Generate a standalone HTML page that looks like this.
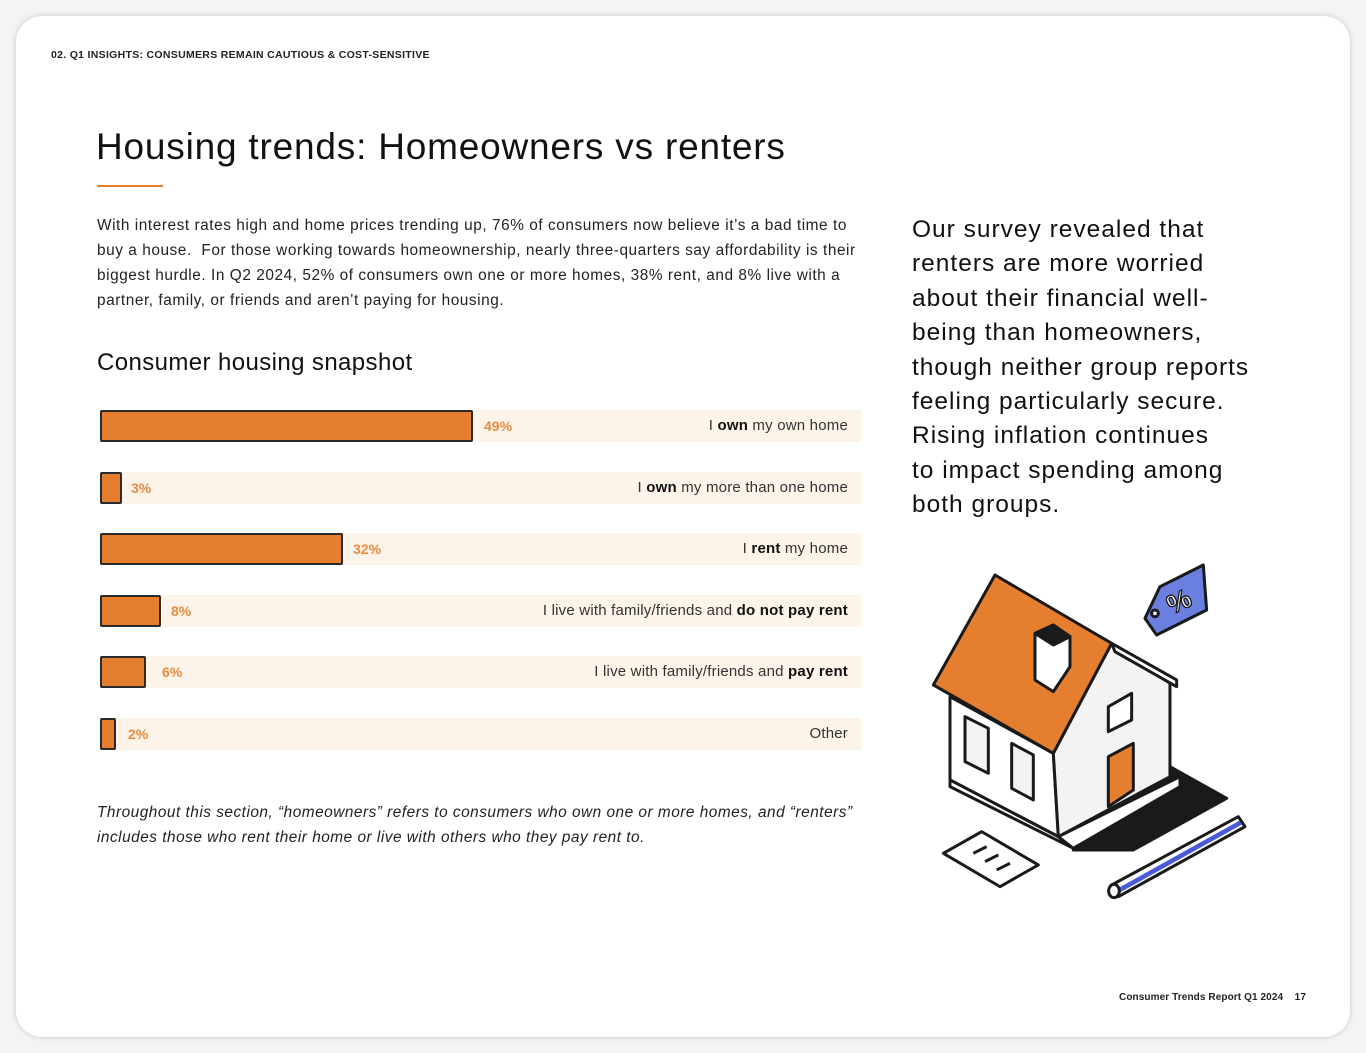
<!DOCTYPE html>
<html><head><meta charset="utf-8"><style>
html,body{margin:0;padding:0;width:1366px;height:1053px;background:#f4f4f4;overflow:hidden;font-family:"Liberation Sans",sans-serif;color:#111;}
.card{position:absolute;left:16px;top:16px;width:1334px;height:1021px;background:#fff;border-radius:26px;box-shadow:0 0 6px rgba(0,0,0,.18);}
.abs{position:absolute;white-space:nowrap;}
.row{position:absolute;left:100px;width:761px;height:32px;background:#fcf3e9;}
.bar{position:absolute;left:0;top:0;height:28px;background:#e67e30;border:2px solid #2a2a2a;border-radius:2px;}
.pct{position:absolute;top:8px;font-size:14px;font-weight:bold;color:#e88a3f;}
.lab{position:absolute;right:13px;top:7px;font-size:15px;color:#333;letter-spacing:.2px;}
.lab b{color:#111;}
</style></head><body>
<div class="card"></div>
<div class="abs" style="left:51px;top:49px;font-size:10.5px;font-weight:bold;color:#222;letter-spacing:.3px;">02. Q1 INSIGHTS: CONSUMERS REMAIN CAUTIOUS &amp; COST-SENSITIVE</div>
<div class="abs" style="left:96px;top:126px;font-size:37px;color:#111;letter-spacing:.8px;">Housing trends: Homeowners vs renters</div>
<div class="abs" style="left:97px;top:185px;width:66px;height:2px;background:#e67e30;"></div>
<div class="abs" style="left:97px;top:213px;font-size:15.4px;line-height:25px;color:#222;letter-spacing:.55px;">With interest rates high and home prices trending up, 76% of consumers now believe it’s a bad time to<br>buy a house.&nbsp; For those working towards homeownership, nearly three-quarters say affordability is their<br>biggest hurdle. In Q2 2024, 52% of consumers own one or more homes, 38% rent, and 8% live with a<br>partner, family, or friends and aren’t paying for housing.</div>
<div class="abs" style="left:97px;top:349px;font-size:24px;color:#111;letter-spacing:.4px;">Consumer housing snapshot</div>

<div class="row" style="top:410px"><div class="bar" style="width:369px"></div><div class="pct" style="left:384px">49%</div><div class="lab">I <b>own</b> my own home</div></div>
<div class="row" style="top:472px"><div class="bar" style="width:18px"></div><div class="pct" style="left:31px">3%</div><div class="lab">I <b>own</b> my more than one home</div></div>
<div class="row" style="top:533px"><div class="bar" style="width:239px"></div><div class="pct" style="left:253px">32%</div><div class="lab">I <b>rent</b> my home</div></div>
<div class="row" style="top:595px"><div class="bar" style="width:57px"></div><div class="pct" style="left:71px">8%</div><div class="lab">I live with family/friends and <b>do not pay rent</b></div></div>
<div class="row" style="top:656px"><div class="bar" style="width:42px"></div><div class="pct" style="left:62px">6%</div><div class="lab">I live with family/friends and <b>pay rent</b></div></div>
<div class="row" style="top:718px"><div class="bar" style="width:12px"></div><div class="pct" style="left:28px">2%</div><div class="lab">Other</div></div>

<div class="abs" style="left:97px;top:800px;font-size:15.4px;line-height:25px;font-style:italic;color:#222;letter-spacing:.5px;">Throughout this section, “homeowners” refers to consumers who own one or more homes, and “renters”<br>includes those who rent their home or live with others who they pay rent to.</div>

<div class="abs" style="left:912px;top:213px;font-size:24.5px;line-height:34.4px;color:#111;letter-spacing:1px;">Our survey revealed that<br>renters are more worried<br>about their financial well-<br>being than homeowners,<br>though neither group reports<br>feeling particularly secure.<br>Rising inflation continues<br>to impact spending among<br>both groups.</div>

<svg class="abs" style="left:0;top:0" width="1366" height="1053">
<g transform="translate(920,560) scale(0.3333)" stroke="#1a1a1a" stroke-width="9" stroke-linejoin="round">
<polygon points="750,620 920,715 640,870 460,870" fill="#1a1a1a"/>
<polygon points="90,410 400,580 415,830 90,660" fill="#fff"/>
<polygon points="400,580 575,250 750,370 750,650 415,830" fill="#f3f3f3"/>
<polygon points="90,660 415,830 460,865 90,680" fill="#fff"/>
<polygon points="415,830 780,650 780,680 460,865" fill="#fff"/>
<polygon points="575,250 770,360 770,380 585,275" fill="#fff"/>
<polygon points="225,45 575,250 400,580 40,375" fill="#e67e30"/>
<polygon points="345,220 400,195 450,230 450,320 400,395 345,360" fill="#fff"/>
<polygon points="345,220 400,195 450,230 400,255" fill="#1a1a1a"/>
<polygon points="565,590 640,550 640,690 565,740" fill="#e67e30"/>
<polygon points="565,440 635,400 635,480 565,515" fill="#fff"/>
<polygon points="135,470 205,505 205,640 135,605" fill="#f3f3f3"/>
<polygon points="275,550 340,585 340,720 275,685" fill="#f3f3f3"/>
<polygon points="675,175 720,80 850,15 860,150 710,225" fill="#6b7fe0"/>
<text x="740" y="150" font-size="80" font-weight="bold" fill="#fff" stroke="#1a1a1a" stroke-width="4" transform="rotate(-25 780 120)">%</text>
<circle cx="705" cy="160" r="10" fill="#fff"/>
<polygon points="70,880 185,815 355,915 240,980" fill="#fff"/>
<line x1="160" y1="880" x2="200" y2="860" /><line x1="195" y1="905" x2="235" y2="885"/><line x1="230" y1="930" x2="270" y2="910"/>
<polygon points="575,975 955,770 975,800 595,1010" fill="#fff"/>
<line x1="590" y1="995" x2="962" y2="788" stroke="#4a5ad8" stroke-width="14"/>
<ellipse cx="582" cy="993" rx="16" ry="20" fill="#fff"/>
</g>
</svg>

<div class="abs" style="left:1119px;top:992px;font-size:10px;font-weight:bold;color:#222;letter-spacing:.1px;">Consumer Trends Report Q1 2024 &nbsp;&nbsp; 17</div>
</body></html>
